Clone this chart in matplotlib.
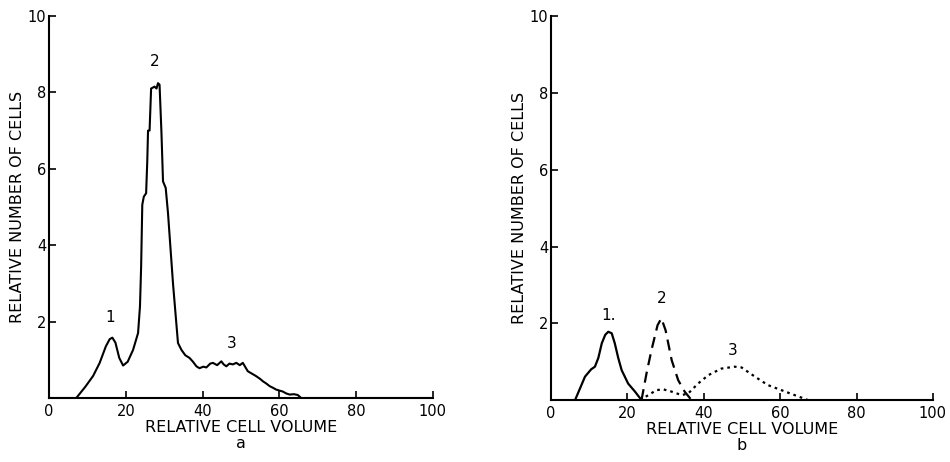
import matplotlib
matplotlib.use('Agg')
import matplotlib.pyplot as plt
import numpy as np

# panel a: measured volume distribution
vol_a = [0, 7.1, 9.5, 11.5, 13.2, 14.8, 15.8, 16.5, 17.3, 18.3, 19.3, 20.5, 21.9, 23.2,
         23.7, 24.0, 24.3, 24.7, 25.3, 25.6, 25.8, 26.2, 26.6, 27.5, 28.0, 28.4, 28.8,
         29.3, 29.7, 30.4, 31.0, 32.3, 33.6, 34.5, 35.5, 36.6, 37.5, 38.4, 39.2, 40.2,
         41.0, 42.0, 42.7, 43.8, 44.9, 45.5, 46.2, 47.0, 47.9, 48.8, 49.7, 50.5, 51.2,
         51.8, 53.0, 54.0, 55.0, 55.7, 56.6, 57.5, 58.3, 59.2, 60.2, 60.9, 61.8, 62.7,
         63.8, 64.8, 65.7, 100]
cells_a = [0, 0, 0.3, 0.58, 0.92, 1.35, 1.54, 1.58, 1.45, 1.05, 0.85, 0.95, 1.26, 1.7,
           2.4, 3.44, 5.06, 5.27, 5.36, 6.2, 7.0, 7.0, 8.1, 8.15, 8.1, 8.24, 8.2,
           6.93, 5.67, 5.5, 4.84, 3.0, 1.44, 1.26, 1.12, 1.05, 0.95, 0.83, 0.78, 0.82,
           0.8, 0.9, 0.92, 0.86, 0.96, 0.88, 0.83, 0.9, 0.88, 0.92, 0.86, 0.92, 0.8,
           0.7, 0.63, 0.57, 0.5, 0.44, 0.38, 0.31, 0.27, 0.22, 0.19, 0.17, 0.12, 0.09,
           0.1, 0.08, 0, 0]

# panel b: resolved components
vol_b1 = [6.3, 8.9, 10.5, 11.5, 12.4, 13.3, 14.2, 15.0, 15.9, 16.7, 17.6, 18.5, 20.2, 22.0, 23.7]
cells_b1 = [0, 0.61, 0.8, 0.87, 1.1, 1.48, 1.7, 1.78, 1.74, 1.48, 1.1, 0.78, 0.43, 0.22, 0]

vol_b2 = [23.7, 25.0, 26.3, 27.9, 28.9, 30.0, 31.6, 33.3, 35.0, 36.8]
cells_b2 = [0, 0.69, 1.3, 1.95, 2.13, 1.82, 1.04, 0.52, 0.22, 0]

vol_b3 = [23.3, 25.5, 27.6, 29.4, 31.6, 34.2, 35.9, 38.5, 41.2, 44.6, 48.1, 49.9,
          53.4, 56.8, 60.3, 63.8, 67.3]
cells_b3 = [0, 0.13, 0.26, 0.28, 0.22, 0.13, 0.17, 0.43, 0.65, 0.82, 0.87, 0.85,
            0.61, 0.39, 0.26, 0.13, 0]

peak_labels_a = [('1', 16.0, 1.9), ('2', 27.5, 8.6), ('3', 47.5, 1.22)]
peak_labels_b = [('1.', 15.0, 2.0), ('2', 28.9, 2.45), ('3', 47.7, 1.1)]

xticks = [0, 20, 40, 60, 80, 100]
yticks = [2, 4, 6, 8, 10]

fig = plt.figure(figsize=(9.5, 4.62), dpi=100)
ax1 = fig.add_axes([0.0516, 0.1385, 0.404, 0.827])
ax2 = fig.add_axes([0.58, 0.134, 0.402, 0.831])

ax1.plot(vol_a, cells_a, color='black', lw=1.5)
ax2.plot(vol_b1, cells_b1, color='black', lw=1.6)
ax2.plot(vol_b2, cells_b2, color='black', lw=1.6, ls=(0, (5, 3)))
ax2.plot(vol_b3, cells_b3, color='black', lw=1.6, ls=(0, (1.2, 1.8)))

for ax, labels, tag in [(ax1, peak_labels_a, 'a'), (ax2, peak_labels_b, 'b')]:
    ax.set_xlim(0, 100)
    ax.set_ylim(0, 10)
    ax.spines['top'].set_visible(False)
    ax.spines['right'].set_visible(False)
    ax.spines['left'].set_linewidth(1.5)
    ax.spines['bottom'].set_linewidth(1.5)
    ax.set_xticks(xticks)
    ax.set_yticks(yticks)
    ax.tick_params(direction='in', length=5, width=1.2, labelsize=10.5, pad=4)
    ax.tick_params(axis='y', pad=2)
    ax.set_ylabel('RELATIVE NUMBER OF CELLS', fontsize=11.5, labelpad=2)
    ax.set_xlabel('RELATIVE CELL VOLUME\n' + tag, fontsize=11.5, labelpad=1,
                  linespacing=1.05)
    for txt, x, y in labels:
        ax.text(x, y, txt, ha='center', va='bottom', fontsize=11)

fig.savefig('out.png', dpi=100)
